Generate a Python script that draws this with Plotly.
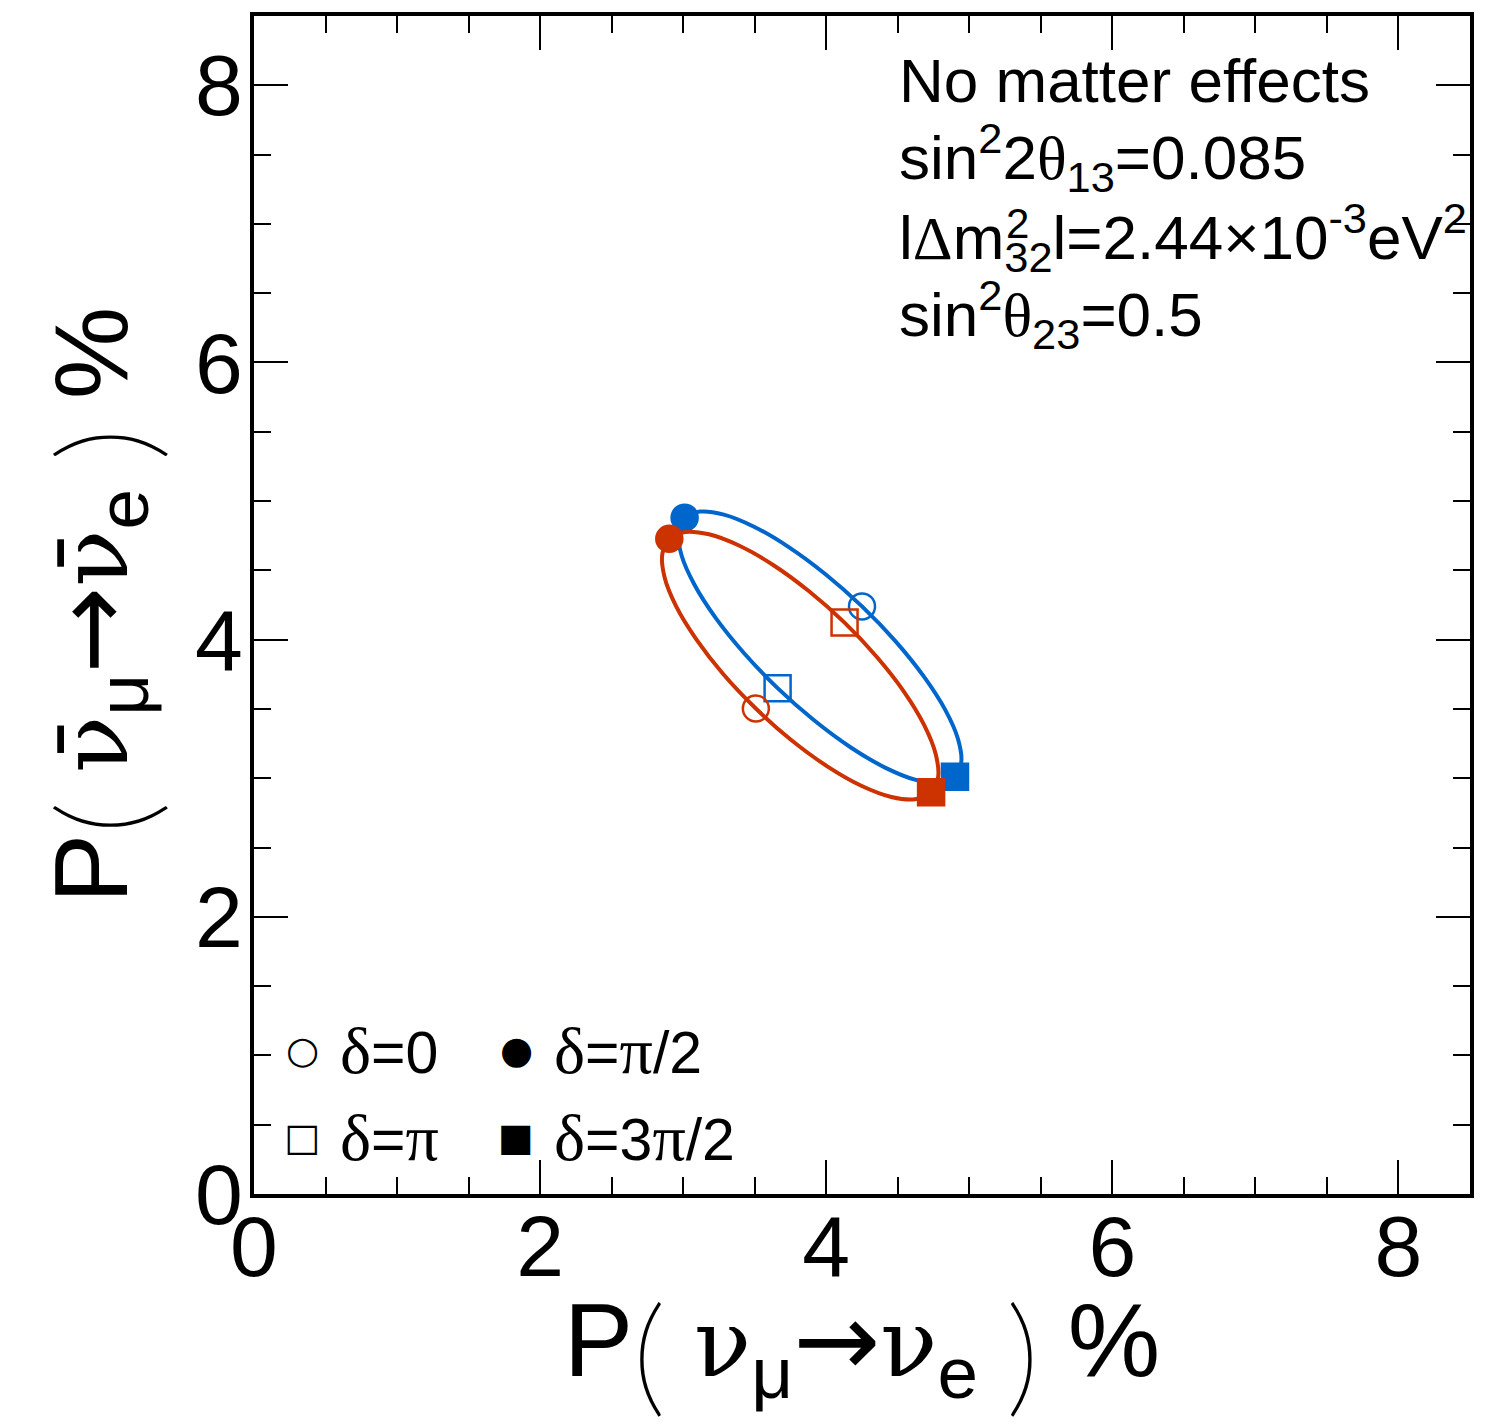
import plotly.graph_objects as go

# CP-phase ellipses: P(nu_mu -> nu_e) vs P(anti-nu_mu -> anti-nu_e), in percent,
# sampled every 15 degrees of delta_CP (0 ... 345 deg), curve closed back to delta=0.
blue_x = [4.250, 3.995, 3.738, 3.495, 3.284, 3.119, 3.010, 2.966, 2.989, 3.078, 3.227, 3.426,
          3.660, 3.915, 4.172, 4.415, 4.626, 4.791, 4.900, 4.944, 4.921, 4.832, 4.683, 4.485, 4.250]
blue_y = [4.240, 4.472, 4.668, 4.815, 4.902, 4.924, 4.880, 4.772, 4.607, 4.398, 4.157, 3.902,
          3.650, 3.418, 3.222, 3.075, 2.988, 2.966, 3.010, 3.118, 3.283, 3.493, 3.733, 3.988, 4.240]
red_x = [3.508, 3.281, 3.092, 2.951, 2.870, 2.854, 2.903, 3.014, 3.180, 3.390, 3.629, 3.880,
         4.128, 4.354, 4.544, 4.684, 4.765, 4.782, 4.733, 4.621, 4.455, 4.245, 4.007, 3.755, 3.508]
red_y = [3.503, 3.750, 4.002, 4.240, 4.450, 4.616, 4.728, 4.777, 4.760, 4.679, 4.539, 4.349,
         4.123, 3.875, 3.624, 3.385, 3.175, 3.009, 2.898, 2.849, 2.865, 2.946, 3.086, 3.276, 3.503]

# Points at delta = 0, pi/2, pi, 3pi/2
delta_labels = ["δ=0", "δ=π/2", "δ=π", "δ=3π/2"]
delta_symbols = ["circle-open", "circle", "square-open", "square"]
blue_pts_x = [4.250, 3.010, 3.660, 4.900]
blue_pts_y = [4.240, 4.880, 3.650, 3.010]
red_pts_x = [3.508, 2.903, 4.128, 4.733]
red_pts_y = [3.503, 4.728, 4.123, 2.898]

x_ticks = [0, 2, 4, 6, 8]
y_ticks = [0, 2, 4, 6, 8]

BLUE = "#0066cc"
RED = "#cc3300"
SANS = "Liberation Sans"
SERIF = "Liberation Serif"
GREEK = "DejaVu Serif"

fig = go.Figure()

for xs, ys, px, py, col in [(blue_x, blue_y, blue_pts_x, blue_pts_y, BLUE),
                            (red_x, red_y, red_pts_x, red_pts_y, RED)]:
    fig.add_trace(go.Scatter(x=xs, y=ys, mode="lines",
                             line=dict(color=col, width=4, shape="spline", smoothing=1.0),
                             hoverinfo="skip"))
    fig.add_trace(go.Scatter(x=px, y=py, mode="markers", text=delta_labels,
                             marker=dict(symbol=delta_symbols, size=26, color=col,
                                         line=dict(color=col, width=2.5))))

L, R, T, B = 254, 1470, 14, 1194


def px2x(p):
    return (p - L) / (R - L)


def px2y(p):
    return (B - p) / (B - T)


def serif(s, size=None, family=SERIF):
    if size:
        return '<span style="font-family:%s;font-size:%dpx">%s</span>' % (family, size, s)
    return '<span style="font-family:%s">%s</span>' % (family, s)


def paren(s, size):
    return ('<span style="font-family:Lato;font-weight:200;font-size:%dpx;'
            'baseline-shift:-24px;stroke:black;stroke-width:2px">%s</span>' % (size, s))


ARROW = '<span style="font-family:DejaVu Sans">→</span>'

annotations = []

# Parameter block
info_lines = [
    ("No matter effects", 42),
    ("sin<sup>2</sup>2" + serif("θ") + "<sub>13</sub>=0.085", 110),
    ("l" + serif("Δ") + "m<sub>32</sub>l=2.44×10<sup>-3</sup>eV<sup>2</sup>", 190),
    ("sin<sup>2</sup>" + serif("θ") + "<sub>23</sub>=0.5", 267),
]
for txt, top in info_lines:
    annotations.append(dict(text=txt, x=px2x(897), y=px2y(top), xref="paper", yref="paper",
                            xanchor="left", yanchor="top", showarrow=False, align="left",
                            font=dict(family=SANS, size=62, color="black")))
# squared exponent stacked over the "32" index
annotations.append(dict(text="2", x=px2x(1004), y=px2y(222), xref="paper", yref="paper",
                        xanchor="left", yanchor="middle", showarrow=False,
                        font=dict(family=SANS, size=42, color="black")))

# Marker key
key = [("○", "=0", 302, 1050), ("●", "=π/2", 516, 1050),
       ("□", "=π", 302, 1137), ("■", "=3π/2", 516, 1137)]
for sym, rest, cx, cy in key:
    annotations.append(dict(text=sym, x=px2x(cx), y=px2y(cy), xref="paper", yref="paper",
                            xanchor="center", yanchor="middle", showarrow=False,
                            font=dict(family="DejaVu Sans", size=38, color="black")))
    rest_txt = rest.replace("π", serif("π", 66))
    annotations.append(dict(text=serif("δ", 66) + rest_txt, x=px2x(cx + 36), y=px2y(cy),
                            xref="paper", yref="paper", xanchor="left", yanchor="middle",
                            showarrow=False,
                            font=dict(family=SANS, size=59, color="black")))

axis_common = dict(range=[0, 8.5], ticks="inside", ticklen=34, tickwidth=2, tickcolor="black",
                   showline=True, linewidth=4, linecolor="black", mirror="ticks",
                   showgrid=False, zeroline=False,
                   tickfont=dict(family=SANS, size=86, color="black"),
                   minor=dict(dtick=0.5, ticks="inside", ticklen=17, tickwidth=2,
                              tickcolor="black", showgrid=False))

NU = serif("ν", 94, family=GREEK)
NUBAR = serif("ν\u0304", 94, family=GREEK)

x_title = ("P" + paren("(", 128) + " " + NU + "<sub>μ</sub>" + ARROW + NU
           + "<sub>e</sub> " + paren(")", 128) + " %")
y_title = ("P" + paren("(", 128) + " " + NUBAR + "<sub>μ</sub>" + ARROW + NUBAR
           + "<sub>e</sub> " + paren(")", 128) + " %")

fig.update_layout(
    width=1490, height=1427,
    margin=dict(l=L, r=1490 - R, t=T, b=1427 - B, pad=0),
    paper_bgcolor="white", plot_bgcolor="white",
    showlegend=False,
    xaxis=dict(axis_common, tickvals=x_ticks, ticklabelstandoff=-25,
               title=dict(text=x_title, standoff=0,
                          font=dict(family=SANS, size=104, color="black"))),
    yaxis=dict(axis_common, tickvals=y_ticks, ticklabelstandoff=-10,
               title=dict(text=y_title, standoff=34,
                          font=dict(family=SANS, size=104, color="black"))),
    annotations=annotations,
)

fig.write_html("out.html")
